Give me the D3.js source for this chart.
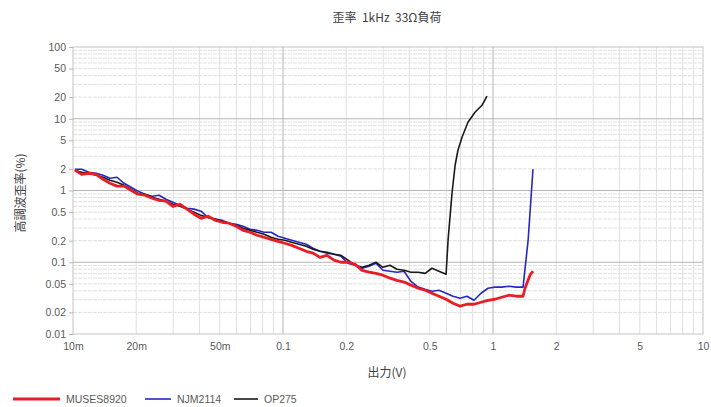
<!DOCTYPE html>
<html>
<head>
<meta charset="utf-8">
<script src="https://cdn.jsdelivr.net/npm/d3@7"></script>
<style>
  body { margin: 0; background: #fff; }
  text { font-family: "Liberation Sans", "Noto Sans CJK JP", sans-serif; }
</style>
</head>
<body>
<div id="chart"></div>
<script>
// output voltage (V) and THD (%)
var musesV = [0.0102,0.011,0.0119,0.0129,0.0139,0.015,0.0162,0.0175,0.0189,0.0204,
  0.022,0.0238,0.0257,0.0277,0.0299,0.0323,0.0349,0.0377,0.0407,0.044,
  0.0475,0.0512,0.0553,0.0598,0.0645,0.0697,0.0752,0.0812,0.0877,0.0947,
  0.102,0.11,0.119,0.129,0.139,0.15,0.162,0.175,0.189,0.204,
  0.22,0.238,0.257,0.277,0.299,0.323,0.349,0.377,0.407,0.44,
  0.475,0.512,0.553,0.598,0.645,0.697,0.752,0.812,0.877,0.947,
  1.02,1.1,1.19,1.29,1.39,1.42,1.5,1.55];
var musesThd = [1.92,1.68,1.74,1.68,1.43,1.26,1.15,1.15,1.01,0.887,
  0.86,0.78,0.73,0.71,0.60,0.643,0.55,0.467,0.41,0.438,
  0.385,0.361,0.35,0.318,0.279,0.262,0.238,0.223,0.209,0.196,
  0.184,0.172,0.157,0.142,0.134,0.117,0.125,0.107,0.100,0.100,
  0.094,0.077,0.073,0.070,0.066,0.060,0.056,0.053,0.048,0.0434,
  0.0407,0.037,0.0336,0.0305,0.0268,0.0244,0.026,0.026,0.0277,0.0295,
  0.0305,0.0325,0.0347,0.0336,0.0336,0.0434,0.066,0.075];

var njmV = [0.0102,0.011,0.0119,0.0129,0.0139,0.015,0.0162,0.0175,0.0189,0.0204,
  0.022,0.0238,0.0257,0.0277,0.0299,0.0323,0.0349,0.0377,0.0407,0.044,
  0.0475,0.0512,0.0553,0.0598,0.0645,0.0697,0.0752,0.0812,0.0877,0.0947,
  0.102,0.11,0.119,0.129,0.139,0.15,0.162,0.175,0.189,0.204,
  0.22,0.238,0.257,0.277,0.299,0.323,0.349,0.377,0.407,0.44,
  0.475,0.512,0.553,0.598,0.645,0.697,0.752,0.812,0.877,0.947,
  1.02,1.1,1.19,1.29,1.39,1.47,1.55];
var njmThd = [1.98,1.98,1.80,1.74,1.63,1.48,1.53,1.26,1.11,0.98,
  0.887,0.83,0.86,0.755,0.686,0.62,0.566,0.55,0.515,0.42,
  0.40,0.385,0.35,0.339,0.318,0.288,0.279,0.262,0.262,0.230,
  0.216,0.203,0.190,0.178,0.157,0.142,0.134,0.129,0.121,0.097,
  0.091,0.0825,0.088,0.097,0.0774,0.075,0.0726,0.075,0.054,0.045,
  0.042,0.0395,0.0407,0.037,0.0336,0.0315,0.0336,0.0295,0.037,0.0434,
  0.045,0.045,0.0463,0.045,0.045,0.203,1.98];

var opV = [0.0102,0.011,0.0119,0.0129,0.0139,0.015,0.0162,0.0175,0.0189,0.0204,
  0.022,0.0238,0.0257,0.0277,0.0299,0.0323,0.0349,0.0377,0.0407,0.044,
  0.0475,0.0512,0.0553,0.0598,0.0645,0.0697,0.0752,0.0812,0.0877,0.0947,
  0.102,0.11,0.119,0.129,0.139,0.15,0.162,0.175,0.189,0.204,
  0.22,0.238,0.257,0.277,0.299,0.323,0.349,0.377,0.407,0.44,
  0.475,0.512,0.553,0.598,0.611,0.638,0.66,0.681,0.712,0.76,
  0.821,0.886,0.936];
var opThd = [1.92,1.80,1.74,1.63,1.53,1.39,1.30,1.18,1.04,0.915,
  0.887,0.805,0.755,0.71,0.643,0.603,0.55,0.498,0.45,0.42,
  0.40,0.373,0.35,0.328,0.298,0.279,0.262,0.246,0.223,0.209,
  0.203,0.190,0.178,0.167,0.152,0.142,0.138,0.129,0.125,0.107,
  0.091,0.085,0.091,0.100,0.085,0.091,0.080,0.0774,0.0726,0.0726,
  0.070,0.0825,0.075,0.0681,0.203,0.916,2.25,3.64,5.52,8.94,
  12.3,15.4,20.6];

var xTicks = [0.01, 0.02, 0.05, 0.1, 0.2, 0.5, 1, 2, 5, 10];
var xTickLabels = ["10m", "20m", "50m", "0.1", "0.2", "0.5", "1", "2", "5", "10"];
var yTicks = [100, 50, 20, 10, 5, 2, 1, 0.5, 0.2, 0.1, 0.05, 0.02, 0.01];
var seriesNames = ["MUSES8920", "NJM2114", "OP275"];

var w = 711, h = 407;
var plotLeft = 73, plotRight = 703, plotTop = 47, plotBottom = 334;

var svg = d3.select("#chart").append("svg")
  .attr("width", w).attr("height", h);

var x = d3.scaleLog().domain([0.01, 10]).range([plotLeft, plotRight]);
var y = d3.scaleLog().domain([0.01, 100]).range([plotBottom, plotTop]);

// grid
var grid = svg.append("g");
var decadesX = [0.01, 0.1, 1];
var decadesY = [0.01, 0.1, 1, 10];
decadesX.forEach(function(d) {
  for (var m = 2; m <= 9; m++) {
    grid.append("line")
      .attr("x1", x(d * m)).attr("x2", x(d * m))
      .attr("y1", plotTop).attr("y2", plotBottom)
      .style("stroke", "#e0e0e0");
  }
});
decadesY.forEach(function(d) {
  for (var m = 2; m <= 9; m++) {
    grid.append("line")
      .attr("x1", plotLeft).attr("x2", plotRight)
      .attr("y1", y(d * m)).attr("y2", y(d * m))
      .style("stroke", "#e0e0e0").style("stroke-dasharray", "4,1");
  }
});
[0.1, 1].forEach(function(v) {
  grid.append("line")
    .attr("x1", x(v)).attr("x2", x(v))
    .attr("y1", plotTop).attr("y2", plotBottom)
    .style("stroke", "#b4b4b4");
});
[0.1, 1, 10].forEach(function(v) {
  grid.append("line")
    .attr("x1", plotLeft).attr("x2", plotRight)
    .attr("y1", y(v)).attr("y2", y(v))
    .style("stroke", "#b4b4b4");
});
svg.append("rect")
  .attr("x", plotLeft).attr("y", plotTop)
  .attr("width", plotRight - plotLeft).attr("height", plotBottom - plotTop)
  .style("fill", "none").style("stroke", "#c4c4c4");

// axes
var xAxis = d3.axisBottom(x).tickValues(xTicks)
  .tickFormat(function(d, i) { return xTickLabels[i]; })
  .tickSize(0).tickPadding(9);
var gx = svg.append("g").attr("transform", "translate(0," + plotBottom + ")").call(xAxis);
gx.select(".domain").remove();
gx.selectAll("text").style("fill", "#595959").style("font-size", "10.5px");

var yAxis = d3.axisLeft(y).tickValues(yTicks)
  .tickFormat(function(d) { return String(d); })
  .tickSize(4).tickPadding(3);
var gy = svg.append("g").attr("transform", "translate(" + plotLeft + ",0)").call(yAxis);
gy.select(".domain").remove();
gy.selectAll("line").style("stroke", "#b4b4b4");
gy.selectAll("text").style("fill", "#595959").style("font-size", "10.5px");

// lines
var line = d3.line()
  .x(function(d) { return x(d[0]); })
  .y(function(d) { return y(d[1]); })
  .curve(d3.curveLinear);

function pairs(xs, ys) {
  return xs.map(function(v, i) { return [v, ys[i]]; });
}

var series = [
  { data: pairs(njmV, njmThd), color: "#2727c4", width: 1.6 },
  { data: pairs(opV, opThd), color: "#1a1a1a", width: 1.6 },
  { data: pairs(musesV, musesThd), color: "#e81d25", width: 2.8 }
];
series.forEach(function(s) {
  svg.append("path")
    .datum(s.data)
    .attr("d", line)
    .style("fill", "none")
    .style("stroke", s.color)
    .style("stroke-width", s.width)
    .style("stroke-linejoin", "round");
});

// titles
svg.append("text")
  .attr("x", 387).attr("y", 22)
  .attr("text-anchor", "middle")
  .style("font-size", "12px").style("fill", "#404040")
  .style("font-family", "'Noto Sans CJK JP', sans-serif")
  .attr("xml:space", "preserve")
  .text("歪率  1kHz  33Ω負荷");

svg.append("text")
  .attr("transform", "translate(25,193) rotate(-90)")
  .attr("text-anchor", "middle")
  .style("font-size", "12px").style("fill", "#404040")
  .style("font-family", "'Noto Sans CJK JP', sans-serif")
  .text("高調波歪率(%)");

svg.append("text")
  .attr("x", 387).attr("y", 377)
  .attr("text-anchor", "middle")
  .style("font-size", "12px").style("fill", "#404040")
  .style("font-family", "'Noto Sans CJK JP', sans-serif")
  .text("出力(V)");

// legend
var legendItems = [
  { name: seriesNames[0], color: "#e81d25", width: 2.8, x1: 13, x2: 60 },
  { name: seriesNames[1], color: "#2727c4", width: 1.6, x1: 145, x2: 171 },
  { name: seriesNames[2], color: "#1a1a1a", width: 1.6, x1: 234, x2: 258 }
];
var legend = svg.append("g");
legendItems.forEach(function(d) {
  legend.append("line")
    .attr("x1", d.x1).attr("x2", d.x2)
    .attr("y1", 399).attr("y2", 399)
    .style("stroke", d.color).style("stroke-width", d.width);
  legend.append("text")
    .attr("x", d.x2 + 6).attr("y", 403)
    .style("font-size", "10.5px").style("fill", "#595959")
    .text(d.name);
});
</script>
</body>
</html>
